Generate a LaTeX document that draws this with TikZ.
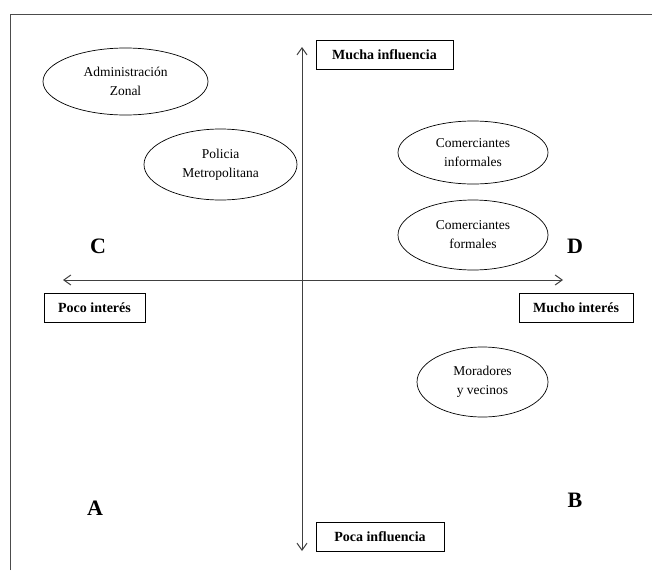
\documentclass[tikz,border=0pt]{standalone}
\usepackage{fontspec}
\setmainfont{Liberation Serif}
\usetikzlibrary{shapes.geometric,arrows.meta}
\tikzset{
	actor/.style={draw,ellipse,inner sep=0pt,align=center,font=\fontsize{13.5}{19}\selectfont},
	axislabel/.style={draw,line width=1pt,minimum height=29pt,inner sep=0pt,font=\fontsize{14}{16}\selectfont\bfseries},
	quadrant/.style={font=\fontsize{22}{24}\selectfont\bfseries},
	axis/.style={line width=1pt,black!75,{Straight Barb[length=7pt,width=10pt]}-{Straight Barb[length=7pt,width=10pt]}}
}
\begin{document}
\begin{tikzpicture}[x=1pt,y=-1pt,line width=0.7pt]
		\useasboundingbox (0,0) rectangle (652,570);
		\draw[black!70] (10,570) -- (10,14) -- (652,14);
		\coordinate (top) at (302,47);
		\coordinate (bottom) at (302,551);
		\coordinate (left) at (63,280);
		\coordinate (right) at (563,280);
		\draw[axis] (top) -- (bottom);
		\draw[axis] (left) -- (right);
		\node[axislabel,minimum width=137pt] (mucha) at (384.5,55) {Mucha influencia};
		\node[axislabel,minimum width=128pt] (poca) at (380,537) {Poca influencia};
		\node[axislabel,minimum width=101pt] (poco) at (94.5,307.5) {Poco interés};
		\node[axislabel,minimum width=114pt] (mucho) at (576,307.5) {Mucho interés};
		\node[actor,minimum width=165pt,minimum height=67pt] (admin) at (125.5,81.5) {Administración\\Zonal};
		\node[actor,minimum width=153pt,minimum height=71pt] (policia) at (220.5,164.5) {Policia\\Metropolitana};
		\node[actor,minimum width=150pt,minimum height=63pt] (informales) at (473,152.5) {Comerciantes\\informales};
		\node[actor,minimum width=150pt,minimum height=70pt] (formales) at (473,235) {Comerciantes\\formales};
		\node[actor,minimum width=131pt,minimum height=70pt] (moradores) at (482.5,382) {Moradores\\y vecinos};
		\node[quadrant] (C) at (98,246) {C};
		\node[quadrant] (D) at (575,246) {D};
		\node[quadrant] (A) at (95,508) {A};
		\node[quadrant] (B) at (575,500) {B};
	\end{tikzpicture}
\end{document}
